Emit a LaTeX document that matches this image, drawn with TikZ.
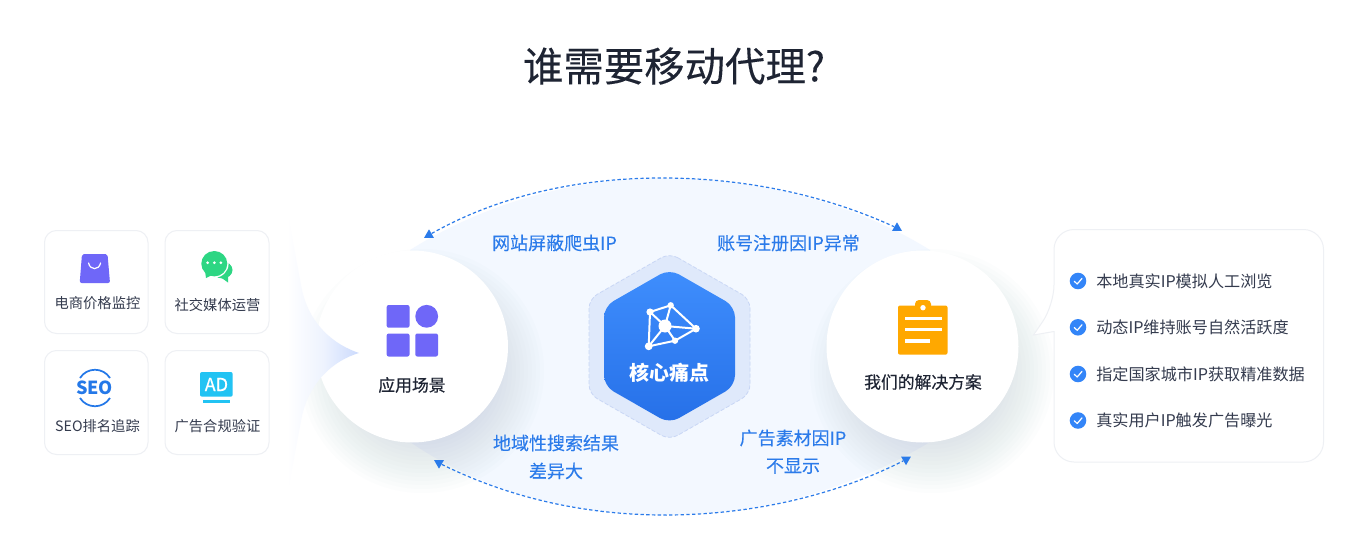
\documentclass[tikz,border=0pt]{standalone}
\usepackage{fontspec}
\setmainfont{Noto Sans CJK SC}
\newfontfamily\medfont[FakeBold=0.35]{Noto Sans CJK SC}
\newfontfamily\lightfont[FakeBold=0.15]{Noto Sans CJK SC}
\usetikzlibrary{shapes.geometric}
\definecolor{inkdark}{HTML}{1E2433}
\definecolor{inkcard}{HTML}{343B4E}
\definecolor{linkblue}{HTML}{2B7BEA}
\definecolor{lensfill}{HTML}{F3F8FF}
\definecolor{cardline}{HTML}{EEF0F4}
\definecolor{violetfill}{HTML}{6F67F8}
\definecolor{greenfill}{HTML}{2DD683}
\definecolor{seoblue}{HTML}{2478E8}
\definecolor{adcyan}{HTML}{22C3F3}
\definecolor{orangefill}{HTML}{FFA800}
\definecolor{hexouter}{HTML}{DFE9FB}
\definecolor{hexdash}{HTML}{C8D6F5}
\definecolor{hextop}{HTML}{3F8EFD}
\definecolor{hexbot}{HTML}{2670E8}
\definecolor{checkblue}{HTML}{3385F8}
\definecolor{shadowc}{HTML}{7080B0}
\definecolor{funnelc}{HTML}{CBDAFD}
\definecolor{funnelm}{HTML}{EEF3FE}
\tikzset{
  card/.style={draw=cardline,fill=white,line width=.75pt,rounded corners=9pt},
  cardtext/.style={inner sep=0pt,text=inkcard,font=\fontsize{10.7}{12}\selectfont},
  linktext/.style={inner sep=0pt,text=linkblue,font=\lightfont\fontsize{13.5}{16}\selectfont},
  hubtext/.style={inner sep=0pt,text=inkdark,font=\medfont\fontsize{12.6}{15}\selectfont},
  itemtext/.style={inner sep=0pt,anchor=west,text=inkcard,font=\fontsize{12.1}{14}\selectfont},
  hub/.style={circle,fill=white,inner sep=0pt,minimum size=144pt},
  softshadow/.style={fill=shadowc,fill opacity=.016},
  tick/.style={circle,fill=checkblue,inner sep=0pt,minimum size=12.4pt},
  tri/.style={regular polygon,regular polygon sides=3,fill=linkblue,inner sep=0pt,minimum size=8.5pt},
  arcline/.style={draw=linkblue,line width=.9pt,dash pattern=on 2.5pt off 1.8pt},
  whiteline/.style={draw=white,line width=1.5pt}
}
\begin{document}
\begin{tikzpicture}[x=0.75pt,y=-0.75pt]
\useasboundingbox (0,0) rectangle (1361,539);
\fill[white] (0,0) rectangle (1361,539);

% lens
\fill[lensfill] (410,250) .. controls (490,200) and (580,178) .. (665,178)
  .. controls (750,178) and (850,200) .. (930,250) -- (930,442)
  .. controls (850,490) and (760,515) .. (665,515)
  .. controls (570,515) and (480,490) .. (410,442) -- cycle;

% shadows
\foreach \rr in {70,74,...,122}{
  \fill[softshadow] (422,371) circle (\rr);
  \fill[softshadow] (932,371) circle (\rr);
}

% hubs
\node[hub] (apps) at (412,346.5) {};
\node[hub] (plan) at (922.5,346.5) {};

% funnel
\shade[left color=white,right color=funnelc,middle color=funnelm] (287,210) -- (301,285)
  .. controls (308,325) and (335,345) .. (359,353)
  .. controls (335,360) and (308,381) .. (301,421) -- (287,495) -- cycle;

% arcs
\node[tri] (tl) at (429,235) {};
\node[tri] (tr) at (897,228) {};
\node[tri,shape border rotate=180] (bl) at (439,463) {};
\node[tri,shape border rotate=180] (br) at (906,459.5) {};
\draw[arcline] (tl) .. controls (500,195) and (580,178) .. (662,178) .. controls (745,178) and (825,195) .. (tr);
\draw[arcline] (bl) .. controls (510,498) and (585,515) .. (665,515) .. controls (745,515) and (830,498) .. (br);

% cards
\draw[card] (44.5,230.5) rectangle (148,333.5);
\draw[card] (165,230.5) rectangle (269,333.5);
\draw[card] (44.5,350.5) rectangle (148,454.5);
\draw[card] (165,350.5) rectangle (269,454.5);
\node[cardtext] (c1) at (97.5,303) {电商价格监控};
\node[cardtext] (c2) at (217.5,305) {社交媒体运营};
\node[cardtext] (c3) at (97.5,426) {SEO排名追踪};
\node[cardtext] (c4) at (217.5,426) {广告合规验证};

% bag
\fill[violetfill,rounded corners=1.5pt] (82,254) -- (107.5,254) -- (110,283) -- (79.7,283) -- cycle;
\draw[white,line width=.9pt,line cap=round] (88.6,263) .. controls (90,270.5) and (99,270.5) .. (100.6,263);

% chat
\fill[greenfill] (222.5,270) ellipse (10 and 8.5);
\fill[greenfill] (219,276) -- (228,282.5) -- (228,274) -- cycle;
\fill[white] (214.3,263.7) ellipse (14.3 and 14);
\fill[greenfill] (214.3,263.7) ellipse (13 and 12.7);
\fill[greenfill] (205,271) -- (206,278) -- (214,274) -- cycle;
\foreach \dx in {207.7,214.3,220.8} \fill[white] (\dx,262.7) circle (1.5);

% seo
\node[inner sep=0pt,text=seoblue,font=\bfseries\fontsize{13.5}{15}\selectfont] (seo) at (94.5,388) {SEO};
\draw[seoblue,line width=1.3pt] (80,378) .. controls (87,367) and (103,367) .. (110,378);
\draw[seoblue,line width=1.3pt] (80,398) .. controls (87,409) and (103,409) .. (110,398);

% ad
\fill[adcyan,rounded corners=1.5pt] (200,372) rectangle (232.7,396.7);
\node[inner sep=0pt,text=white,font=\medfont\fontsize{13.5}{15}\selectfont] (ad) at (216.4,384.5) {AD};
\fill[adcyan] (203,399.7) rectangle (230,403);

% apps icon
\fill[violetfill,rounded corners=1.5pt] (386.7,305) rectangle (409.5,327.7);
\fill[violetfill] (426.7,316.3) circle (11.4);
\fill[violetfill,rounded corners=1.5pt] (386.7,333.5) rectangle (409.5,356.5);
\fill[violetfill,rounded corners=1.5pt] (415.3,333.5) rectangle (438,356.5);
\node[hubtext] (appst) at (412,385) {应用场景};

% clipboard
\fill[orangefill,rounded corners=1.5pt] (898,305.5) rectangle (947.5,354.7);
\fill[orangefill,rounded corners=3pt] (915,300) rectangle (931,310);
\fill[white] (923,307.7) circle (2.7);
\fill[white] (905,316.6) rectangle (941.5,320);
\fill[white] (905,328) rectangle (941.5,331.4);
\fill[white] (905,339.3) rectangle (930,342.7);
\node[hubtext] (plant) at (923,382) {我们的解决方案};

% hexagon
\draw[fill=hexouter,draw=hexdash,line width=.6pt,dash pattern=on 3pt off 1.5pt,rounded corners=7pt]
  (669.5,253) -- (750,299) -- (750,394) -- (669.5,440) -- (589,394) -- (589,299) -- cycle;
\shade[top color=hextop,bottom color=hexbot,rounded corners=8pt]
  (669.5,269) -- (735,306.5) -- (735,386) -- (669.5,423.5) -- (604,386) -- (604,306.5) -- cycle;
\coordinate (nc) at (665,326);
\coordinate (ntl) at (650,312);
\coordinate (nt) at (670.7,305.3);
\coordinate (nr) at (696,328.7);
\coordinate (nbl) at (648.7,346.3);
\coordinate (nb) at (675,340.7);
\draw[whiteline] (ntl) -- (nt) -- (nr) -- (nb) -- (nbl) -- cycle;
\draw[whiteline] (nc) -- (ntl) (nc) -- (nt) (nc) -- (nr) (nc) -- (nb) (nc) -- (nbl);
\fill[white] (nc) circle (6.5);
\fill[white] (ntl) circle (3.6);
\fill[white] (nt) circle (3.2);
\fill[white] (nr) circle (3.8);
\fill[white] (nbl) circle (3.9);
\fill[white] (nb) circle (3.2);
\node[inner sep=0pt,text=white,font=\bfseries\fontsize{15}{18}\selectfont] (hext) at (669.5,373) {核心痛点};

% labels
\node[linktext] (l1) at (554.5,243) {网站屏蔽爬虫IP};
\node[linktext] (l2) at (788.5,243) {账号注册因IP异常};
\node[linktext] (l3) at (556,443) {地域性搜索结果};
\node[linktext] (l4) at (556,471) {差异大};
\node[linktext] (l5) at (793,438) {广告素材因IP};
\node[linktext] (l6) at (793,466) {不显示};

% bubble panel
\draw[draw=cardline,fill=white,line width=.75pt,rounded corners=15pt]
  (1054,305) [sharp corners] -- (1033.5,335) -- (1054,331.5) [rounded corners=15pt] -- (1054,462) -- (1323.5,462) -- (1323.5,229.5) -- (1054,229.5) -- cycle;
\fill[white] (1053,306.5) rectangle (1055,330.5);

% items
\foreach \n/\yy/\tx in {a/281/本地真实IP模拟人工浏览,b/327.3/动态IP维持账号自然活跃度,c/374/指定国家城市IP获取精准数据,d/420.5/真实用户IP触发广告曝光}{
  \node[tick] (tick\n) at (1078,\yy) {};
  \draw[white,line width=.9pt,line cap=round,line join=round] ([shift={(-3.8,0.2)}]tick\n.center) -- ([shift={(-0.8,3)}]tick\n.center) -- ([shift={(4,-2.6)}]tick\n.center);
  \node[itemtext] (item\n) at (1096,\yy) {\tx};
}

% title
\node[inner sep=0pt,text=inkdark,font=\lightfont\fontsize{30.3}{36}\selectfont] (title) at (674,66) {谁需要移动代理?};
\end{tikzpicture}
\end{document}
